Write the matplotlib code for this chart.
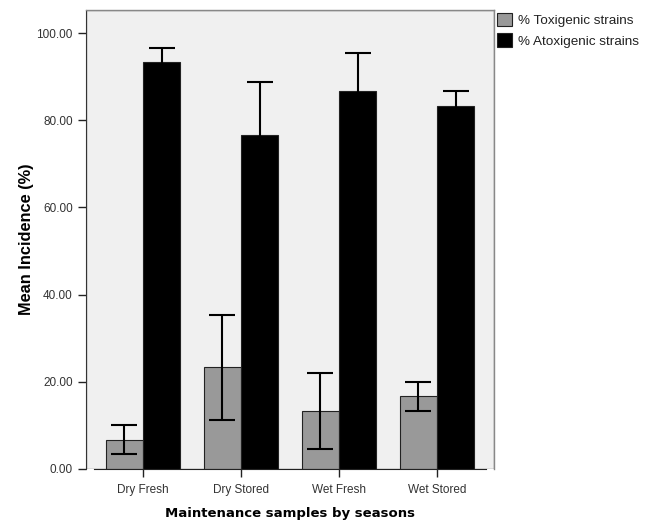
import matplotlib.pyplot as plt
import matplotlib.patches as mpatches
import numpy as np

# data
groups = ["Dry Fresh", "Dry Stored", "Wet Fresh", "Wet Stored"]
toxigenic = [6.67, 23.33, 13.33, 16.67]
atoxigenic = [93.33, 76.67, 86.67, 83.33]
errors = [3.33, 12.0, 8.75, 3.33]
yticks = [0, 20, 40, 60, 80, 100]

plt.rcParams['font.family'] = ['Liberation Sans', 'DejaVu Sans']

fig = plt.figure(figsize=(6.59, 5.25), dpi=100)
ax = fig.add_axes([0.1305, 0.1067, 0.619, 0.8743])
ax.set_facecolor("#f0f0f0")

x = np.arange(len(groups))
w = 0.38
ax.bar(x - w / 2, toxigenic, w, color="#999999", edgecolor="#222222", linewidth=0.8,
       label="% Toxigenic strains", zorder=2)
ax.bar(x + w / 2, atoxigenic, w, color="black", edgecolor="#222222", linewidth=0.8,
       label="% Atoxigenic strains", zorder=2)
ax.errorbar(x - w / 2, toxigenic, yerr=errors, fmt="none", ecolor="black",
            elinewidth=1.5, capsize=9.5, capthick=1.5, zorder=3)
ax.errorbar(x + w / 2, atoxigenic, yerr=errors, fmt="none", ecolor="black",
            elinewidth=1.5, capsize=9.5, capthick=1.5, zorder=3)

ax.set_xlim(-0.58, 3.58)
ax.set_ylim(0, 105.3)
ax.set_xticks(x)
ax.set_xticklabels(groups, fontsize=8.5, color="#333333")
ax.set_yticks(yticks)
ax.set_yticklabels(["%.2f" % v for v in yticks], fontsize=8.5, color="#333333")
ax.tick_params(axis="both", length=6, width=1, color="#222222")
ax.tick_params(axis="x", pad=5)

for s in ["top", "right"]:
    ax.spines[s].set_color("#888888")
    ax.spines[s].set_linewidth(1)
ax.spines["left"].set_color("#333333")
ax.spines["bottom"].set_color("#222222")
ax.spines["bottom"].set_bounds(-0.5, 3.5)
ax.add_patch(mpatches.Rectangle((0, 0), 1, 1, transform=ax.transAxes, fill=False,
                                edgecolor="#888888", linewidth=1, zorder=0))

ax.set_ylabel("Mean Incidence (%)", fontsize=11.8, fontweight="bold", labelpad=1.5)
ax.set_xlabel("Maintenance samples by seasons", fontsize=9.5, fontweight="bold",
              family="DejaVu Sans", labelpad=8)

fig.legend(loc="upper left", bbox_to_anchor=(0.754, 0.976), frameon=False,
           fontsize=9.7, borderpad=0, borderaxespad=0, handlelength=1.1,
           handleheight=1.2, handletextpad=0.45, labelspacing=0.45,
           labelcolor="#222222")

fig.savefig("out.png", dpi=100)
